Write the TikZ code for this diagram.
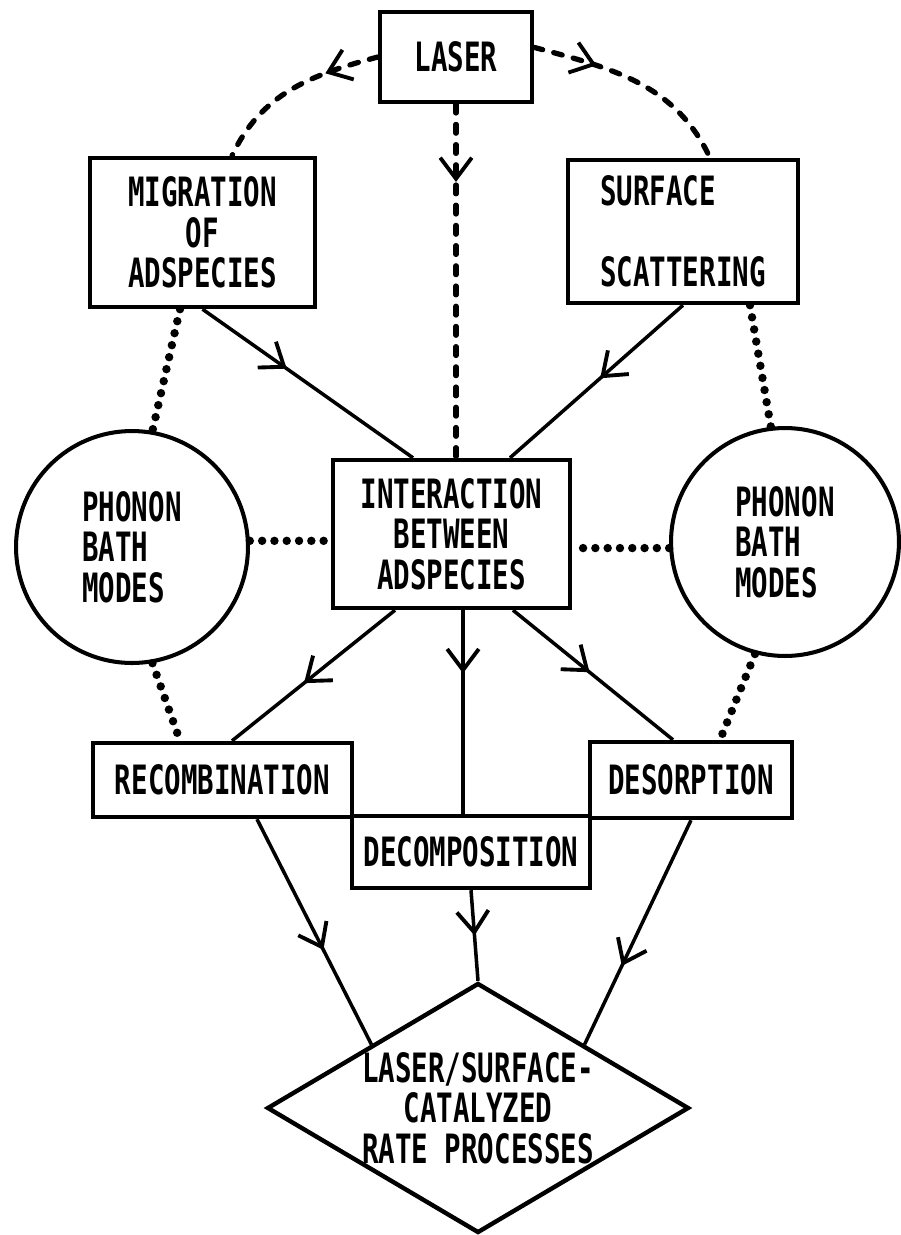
\documentclass[tikz,border=0pt]{standalone}
\usepackage{fontspec}
\setmainfont[FakeStretch=0.68]{DejaVu Sans Mono}
\usetikzlibrary{shapes.geometric,arrows.meta,decorations.markings}

\begin{document}
\begin{tikzpicture}[x=0.02cm,y=-0.02cm,
            every node/.style={font=\bfseries\fontsize{23pt}{23pt}\selectfont,inner sep=0pt},
            box/.style={draw,line width=2.5pt,align=center},
            bath/.style={draw,circle,line width=2.3pt,align=left},
            flow/.style={line width=2pt},
            laserline/.style={line width=3pt,line cap=round,dash pattern=on 5pt off 6.5pt},
            dots/.style={line width=4.8pt,line cap=round,dash pattern=on 0pt off 7pt},
            midarrow/.style={postaction={decorate,decoration={markings,
                mark=at position #1 with {\arrow[line width=2.2pt]{Straight Barb[length=12pt,width=18pt]}}}}}]
            \useasboundingbox (0,0) rectangle (901,1235);

            \node[box,minimum width=3.04cm,minimum height=1.8cm] (laser) at (456,57) {LASER};
            \node[box,minimum width=4.5cm,minimum height=2.98cm] (migr) at (202.5,232.5) {MIGRATION\\OF\\ADSPECIES};
            \node[box,minimum width=4.6cm,minimum height=2.86cm,align=left] (surf) at (683,231.5) {SURFACE\\[23pt]SCATTERING};
            \node[box,minimum width=4.74cm,minimum height=2.96cm] (inter) at (451.5,534) {INTERACTION\\BETWEEN\\ADSPECIES};
            \node[bath,minimum size=4.64cm] (phl) at (132,547) {PHONON\\BATH\\MODES};
            \node[bath,minimum size=4.56cm] (phr) at (785,542) {PHONON\\BATH\\MODES};
            \node[box,minimum width=5.18cm,minimum height=1.48cm] (recomb) at (222.5,780) {RECOMBINATION};
            \node[box,minimum width=4.04cm,minimum height=1.52cm] (desorp) at (691,780) {DESORPTION};
            \node[box,minimum width=4.76cm,minimum height=1.44cm] (decomp) at (471,852) {DECOMPOSITION};
            \node[box,diamond,aspect=1.69,minimum width=8.44cm,minimum height=5cm] (rate) at (478,1108) {LASER/SURFACE-\\CATALYZED\\RATE PROCESSES};

            \draw[laserline,midarrow=0.22] (laser.south) -- (laser.south |- inter.north);
            \draw[laserline,midarrow=0.3] (laser.west) to[out=195,in=65] ([xshift=0.59cm]migr.north);
            \draw[laserline,midarrow=0.3] (laser.7) to[out=-15,in=115] ([xshift=0.54cm]surf.north);

            \draw[flow,midarrow=0.4] (migr.south) -- ([xshift=-0.77cm]inter.north);
            \draw[flow,midarrow=0.48] (surf.south) -- ([xshift=1.17cm]inter.north);
            \draw[flow,midarrow=0.56] ([xshift=-1.13cm]inter.south) -- ([xshift=0.19cm]recomb.north);
            \draw[flow,midarrow=0.31] ([xshift=0.23cm]inter.south) -- ([xshift=-0.16cm]decomp.north);
            \draw[flow,midarrow=0.48] ([xshift=1.23cm]inter.south) -- ([xshift=-0.36cm]desorp.north);
            \draw[flow,midarrow=0.58] ([xshift=0.69cm]recomb.south) -- (rate.north west);
            \draw[flow,midarrow=0.5] (decomp.south) -- (rate.north);
            \draw[flow,midarrow=0.65] (desorp.south) -- (rate.north east);

            \draw[dots] ([xshift=-0.45cm]migr.south) -- (phl.80);
            \draw[dots] ([xshift=1.34cm]surf.south) -- (phr.97);
            \draw[dots] (phl.3) -- (phl.3 -| inter.west);
            \draw[dots] (phr.183) -- (phr.183 -| inter.east);
            \draw[dots] (phl.-80) -- ([xshift=-0.85cm]recomb.north);
            \draw[dots] (phr.-105) -- ([xshift=0.58cm]desorp.north);
        \end{tikzpicture}
\end{document}
